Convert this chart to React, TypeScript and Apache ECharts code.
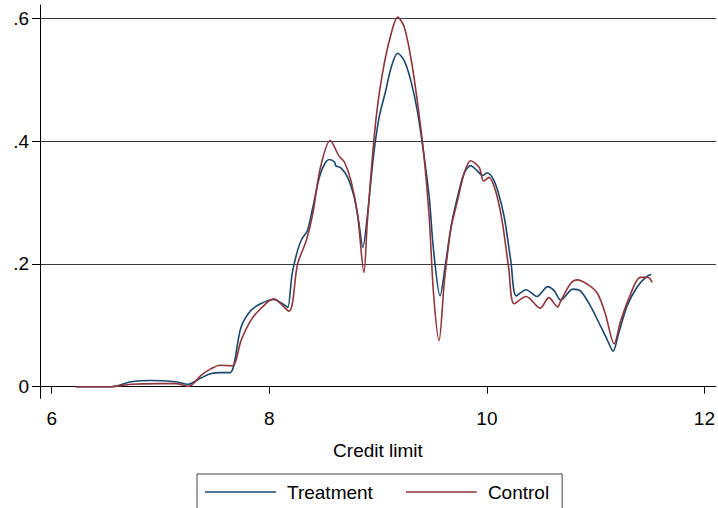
import React, { useEffect, useRef } from "react";
import * as echarts from "echarts";

const xTicks = [6, 8, 10, 12];
const yTicks = [0, 0.2, 0.4, 0.6];
const yTickLabels = ["0", ".2", ".4", ".6"];
const seriesNames = ["Treatment", "Control"];
const seriesColors = ["#1a476f", "#90353b"];

const treatment: [number, number][] = [
  [6.22, 0], [6.55, 0], [6.73, 0.008], [6.91, 0.010], [7.14, 0.008], [7.25, 0.004],
  [7.37, 0.014], [7.46, 0.021], [7.55, 0.023], [7.64, 0.023], [7.74, 0.097], [7.83, 0.124],
  [7.92, 0.135], [8.04, 0.142], [8.15, 0.132], [8.17, 0.129], [8.21, 0.184], [8.26, 0.222],
  [8.30, 0.241], [8.35, 0.254], [8.40, 0.292], [8.47, 0.347], [8.55, 0.370], [8.60, 0.366],
  [8.61, 0.360], [8.66, 0.356], [8.72, 0.341], [8.78, 0.309], [8.82, 0.271], [8.86, 0.227],
  [8.90, 0.276], [8.96, 0.379], [9.01, 0.439], [9.07, 0.482], [9.12, 0.520], [9.18, 0.543],
  [9.24, 0.531], [9.30, 0.499], [9.36, 0.450], [9.42, 0.379], [9.47, 0.309], [9.51, 0.222],
  [9.57, 0.148], [9.62, 0.200], [9.67, 0.260], [9.73, 0.309], [9.79, 0.347], [9.85, 0.360],
  [9.91, 0.352], [9.96, 0.344], [10.00, 0.348], [10.05, 0.341], [10.10, 0.319], [10.16, 0.276],
  [10.22, 0.205], [10.27, 0.148], [10.36, 0.158], [10.46, 0.147], [10.56, 0.163], [10.62, 0.156],
  [10.68, 0.141], [10.79, 0.159], [10.86, 0.156], [10.95, 0.132], [11.05, 0.097], [11.11, 0.075],
  [11.16, 0.058], [11.21, 0.086], [11.29, 0.132], [11.38, 0.162], [11.46, 0.178], [11.51, 0.183],
];

const control: [number, number][] = [
  [6.22, 0], [6.55, 0], [6.73, 0.004], [7.00, 0.005], [7.14, 0.005], [7.26, 0.0005],
  [7.37, 0.018], [7.46, 0.029], [7.55, 0.035], [7.66, 0.034], [7.74, 0.075], [7.83, 0.108],
  [7.92, 0.127], [8.04, 0.143], [8.18, 0.123], [8.26, 0.200], [8.34, 0.238], [8.40, 0.282],
  [8.47, 0.357], [8.56, 0.401], [8.64, 0.376], [8.69, 0.366], [8.75, 0.336], [8.81, 0.282],
  [8.87, 0.186], [8.90, 0.266], [8.95, 0.379], [8.99, 0.450], [9.05, 0.520], [9.12, 0.575],
  [9.18, 0.602], [9.24, 0.586], [9.30, 0.537], [9.36, 0.466], [9.42, 0.379], [9.47, 0.276],
  [9.51, 0.151], [9.56, 0.075], [9.61, 0.173], [9.67, 0.258], [9.73, 0.303], [9.79, 0.347],
  [9.85, 0.368], [9.93, 0.357], [9.97, 0.335], [10.02, 0.341], [10.08, 0.319], [10.14, 0.270],
  [10.20, 0.194], [10.25, 0.135], [10.36, 0.147], [10.49, 0.128], [10.57, 0.145], [10.65, 0.130],
  [10.68, 0.140], [10.77, 0.168], [10.83, 0.174], [10.94, 0.165], [11.02, 0.151], [11.09, 0.118],
  [11.17, 0.070], [11.23, 0.107], [11.31, 0.146], [11.41, 0.178], [11.48, 0.178], [11.52, 0.170],
];

const FONT = "'Liberation Sans', Arial, Helvetica, sans-serif";

export default function App() {
  const ref = useRef<HTMLDivElement>(null);
  useEffect(() => {
    if (!ref.current) return;
    const chart = echarts.init(ref.current, null, { renderer: "svg" });
    const labelMap: Record<string, string> = {};
    yTicks.forEach((v, i) => (labelMap[String(v)] = yTickLabels[i]));
    chart.setOption({
      animation: false,
      backgroundColor: "#ffffff",
      textStyle: { fontFamily: FONT },
      grid: { left: 40, top: 5, width: 676, height: 393.3, containLabel: false },
      xAxis: {
        type: "value",
        min: 5.892,
        max: 12.106,
        name: "Credit limit",
        nameLocation: "middle",
        nameGap: 43,
        nameTextStyle: { fontSize: 19, color: "#000", fontFamily: FONT },
        axisLine: { show: true, lineStyle: { color: "#000", width: 1 } },
        axisTick: { show: true, length: 7, lineStyle: { color: "#000" }, customValues: xTicks },
        axisLabel: { fontSize: 19, color: "#000", margin: 11, customValues: xTicks, fontFamily: FONT },
        splitLine: { show: false },
      },
      yAxis: {
        type: "value",
        min: -0.0189,
        max: 0.6217,
        axisLine: { show: true, lineStyle: { color: "#000", width: 1 } },
        axisTick: { show: true, length: 8, lineStyle: { color: "#000" }, customValues: yTicks },
        axisLabel: {
          fontSize: 19,
          color: "#000",
          margin: 11,
          customValues: yTicks,
          fontFamily: FONT,
          formatter: (v: number) => labelMap[String(Math.round(v * 10) / 10)] ?? "",
        },
        splitLine: { show: true, lineStyle: { color: "#3a3a3a", width: 1 } },
      },
      legend: {
        left: 197,
        top: 474,
        orient: "horizontal",
        icon: "rect",
        itemWidth: 71,
        itemHeight: 1.6,
        itemGap: 33,
        borderColor: "#444",
        borderWidth: 1,
        borderRadius: 0,
        padding: [8.5, 13, 30, 8],
        textStyle: { fontSize: 19, color: "#000", fontFamily: FONT, padding: [0, 0, 0, 6] },
        data: seriesNames,
      },
      series: [
        {
          name: seriesNames[0],
          type: "line",
          data: treatment,
          symbol: "none",
          smooth: 0.3,
          lineStyle: { color: seriesColors[0], width: 1.6 },
          itemStyle: { color: seriesColors[0] },
          z: 3,
        },
        {
          name: seriesNames[1],
          type: "line",
          data: control,
          symbol: "none",
          smooth: 0.3,
          lineStyle: { color: seriesColors[1], width: 1.6 },
          itemStyle: { color: seriesColors[1] },
          z: 4,
        },
      ],
    });
    return () => chart.dispose();
  }, []);
  return (
    <div
      ref={ref}
      style={{ position: "fixed", left: 0, top: 0, width: 718, height: 508, background: "#fff" }}
    />
  );
}
